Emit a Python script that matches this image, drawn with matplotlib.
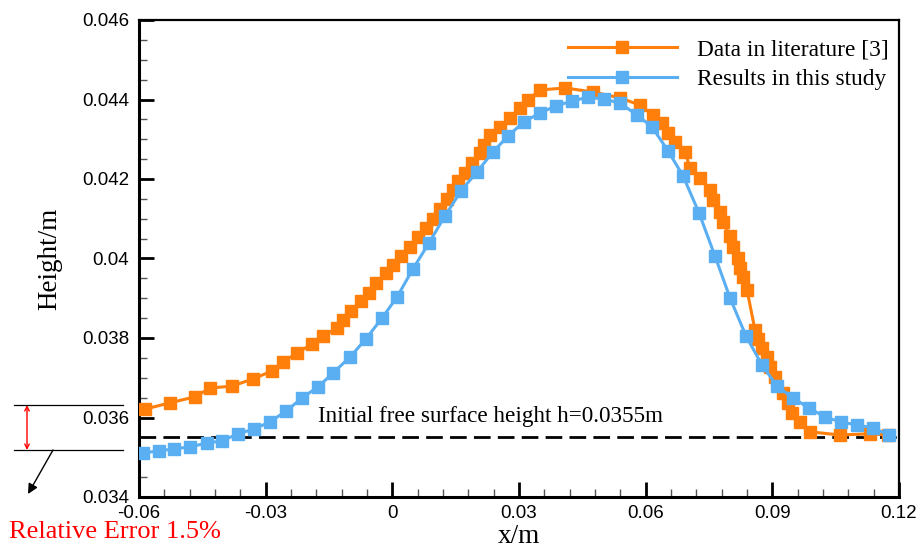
import matplotlib
matplotlib.use("Agg")
import matplotlib.pyplot as plt
from matplotlib.ticker import FixedLocator, FixedFormatter, MultipleLocator

# ---- data ----
x_lit = [-0.05858, -0.05266, -0.04674, -0.04318, -0.03797, -0.03300, -0.02850, -0.02589,
         -0.02258, -0.01903, -0.01642, -0.01311, -0.01168, -0.00979, -0.00742, -0.00553,
         -0.00387, -0.00150, 0.00016, 0.00205, 0.00418, 0.00608, 0.00797, 0.00963,
         0.01129, 0.01295, 0.01437, 0.01555, 0.01721, 0.01887, 0.02076, 0.02171,
         0.02313, 0.02550, 0.02787, 0.03024, 0.03213, 0.03497, 0.04089, 0.04753,
         0.05392, 0.05866, 0.06174, 0.06387, 0.06529, 0.06695, 0.06932, 0.07050,
         0.07287, 0.07524, 0.07595, 0.07761, 0.07832, 0.07997, 0.08068, 0.08187,
         0.08234, 0.08305, 0.08400, 0.08589, 0.08661, 0.08755, 0.08874, 0.08945,
         0.09063, 0.09253, 0.09371, 0.09466, 0.09655, 0.09892, 0.10603, 0.11313, 0.11739]
y_lit = [0.03621, 0.03637, 0.03652, 0.03674, 0.03679, 0.03697, 0.03717, 0.03740,
         0.03762, 0.03785, 0.03805, 0.03825, 0.03845, 0.03868, 0.03893, 0.03913,
         0.03938, 0.03964, 0.03984, 0.04006, 0.04029, 0.04054, 0.04077, 0.04099,
         0.04125, 0.04150, 0.04172, 0.04195, 0.04215, 0.04240, 0.04266, 0.04286,
         0.04311, 0.04331, 0.04354, 0.04379, 0.04399, 0.04424, 0.04429, 0.04419,
         0.04404, 0.04386, 0.04361, 0.04341, 0.04316, 0.04293, 0.04268, 0.04228,
         0.04203, 0.04172, 0.04147, 0.04117, 0.04092, 0.04057, 0.04029, 0.04001,
         0.03976, 0.03954, 0.03921, 0.03820, 0.03798, 0.03775, 0.03752, 0.03727,
         0.03702, 0.03662, 0.03637, 0.03611, 0.03589, 0.03564, 0.03556, 0.03559, 0.03556]

x_study = [-0.05905, -0.05526, -0.05171, -0.04792, -0.04389, -0.04034, -0.03655, -0.03276,
           -0.02897, -0.02518, -0.02139, -0.01761, -0.01405, -0.01003, -0.00624, -0.00245,
           0.00111, 0.00489, 0.00868, 0.01247, 0.01626, 0.02005, 0.02384, 0.02739,
           0.03118, 0.03497, 0.03876, 0.04255, 0.04634, 0.05013, 0.05392, 0.05795,
           0.06150, 0.06529, 0.06884, 0.07263, 0.07642, 0.07997, 0.08376, 0.08755,
           0.09111, 0.09489, 0.09868, 0.10247, 0.10626, 0.11005, 0.11384, 0.11763]
y_study = [0.03511, 0.03516, 0.03521, 0.03526, 0.03536, 0.03541, 0.03559, 0.03571,
           0.03589, 0.03616, 0.03649, 0.03677, 0.03712, 0.03752, 0.03798, 0.03850,
           0.03903, 0.03974, 0.04039, 0.04107, 0.04170, 0.04218, 0.04268, 0.04308,
           0.04344, 0.04366, 0.04384, 0.04396, 0.04406, 0.04401, 0.04391, 0.04361,
           0.04331, 0.04271, 0.04208, 0.04115, 0.04006, 0.03901, 0.03805, 0.03732,
           0.03679, 0.03649, 0.03624, 0.03601, 0.03589, 0.03581, 0.03574, 0.03556]

h0 = 0.0355
x_ticks = [-0.06, -0.03, 0, 0.03, 0.06, 0.09, 0.12]
x_ticklabels = ["-0.06", "-0.03", "0", "0.03", "0.06", "0.09", "0.12"]
y_ticks = [0.034, 0.036, 0.038, 0.040, 0.042, 0.044, 0.046]
y_ticklabels = ["0.034", "0.036", "0.038", "0.04", "0.042", "0.044", "0.046"]

ORANGE = "#FF7F0A"
BLUE = "#5AAEF2"
SERIF = ["Liberation Serif", "DejaVu Serif"]
SANS = ["Liberation Sans", "DejaVu Sans"]

fig = plt.figure(figsize=(9.2, 5.56), dpi=100)
ax = fig.add_axes([139/920, 1-497/556, 760/920, 477/556])

ax.plot(x_lit, y_lit, color=ORANGE, lw=2.2, marker="s", ms=8.3, mec=ORANGE,
        label="Data in literature [3]", zorder=3)
ax.plot(x_study, y_study, color=BLUE, lw=2.2, marker="s", ms=8.3, mec=BLUE,
        label="Results in this study", zorder=4)
ax.axhline(h0, color="black", lw=2.0, ls=(0, (6, 2.6)), zorder=2)

ax.text(-0.0177, 0.03576, "Initial free surface height h=0.0355m",
        fontsize=16.7, family=SERIF, ha="left", va="bottom")

ax.set_xlim(-0.06, 0.12)
ax.set_ylim(0.034, 0.046)
ax.xaxis.set_major_locator(FixedLocator(x_ticks))
ax.xaxis.set_major_formatter(FixedFormatter(x_ticklabels))
ax.yaxis.set_major_locator(FixedLocator(y_ticks))
ax.yaxis.set_major_formatter(FixedFormatter(y_ticklabels))
ax.xaxis.set_minor_locator(MultipleLocator(0.006))
ax.yaxis.set_minor_locator(MultipleLocator(0.0005))
ax.tick_params(which="major", direction="in", length=11, width=2, labelsize=13.5,
               pad=6, top=False, right=False)
ax.tick_params(which="minor", direction="in", length=6, width=1, color="#555555",
               top=False, right=False)
ax.tick_params(axis="y", which="major", pad=7)
for lab in ax.get_xticklabels() + ax.get_yticklabels():
    lab.set_family(SANS)
for side in ["left", "bottom"]:
    ax.spines[side].set_linewidth(2.2)
for side in ["top", "right"]:
    ax.spines[side].set_linewidth(1.6)

ax.set_xlabel("x/m", fontsize=19.5, family=SERIF, labelpad=1)
ax.set_ylabel("Height/m", fontsize=19.5, family=SERIF, labelpad=14)

leg = ax.legend(loc="upper right", frameon=False, prop={"family": SERIF, "size": 16.8},
                handlelength=4.65, handletextpad=0.85, labelspacing=0.38,
                bbox_to_anchor=(1.0105, 0.9997), borderaxespad=0.4)

# ---- relative error annotation (outside the axes, figure pixels) ----
H = 556
def fp(x, y):
    return (x, H - y)

fig.add_artist(plt.Line2D([14/920, 123/920], [1-405/H, 1-405/H], color="black", lw=0.9,
                          transform=fig.transFigure))
fig.add_artist(plt.Line2D([14/920, 123/920], [1-450/H, 1-450/H], color="black", lw=0.9,
                          transform=fig.transFigure))
ax.annotate("", xy=fp(27, 405), xytext=fp(27, 450), xycoords="figure pixels",
            textcoords="figure pixels",
            arrowprops=dict(arrowstyle="<->", color="red", lw=1.0, mutation_scale=8,
                            shrinkA=0, shrinkB=0), annotation_clip=False)
ax.annotate("", xy=fp(28, 494), xytext=fp(53, 450), xycoords="figure pixels",
            textcoords="figure pixels",
            arrowprops=dict(arrowstyle="-|>", color="black", lw=1.0, mutation_scale=15,
                            shrinkA=0, shrinkB=0), annotation_clip=False)
fig.text(9/920, 1-532/H, "Relative Error 1.5%", color="red", fontsize=19,
         family=SERIF, ha="left", va="center")

fig.savefig("out.png", dpi=100)
